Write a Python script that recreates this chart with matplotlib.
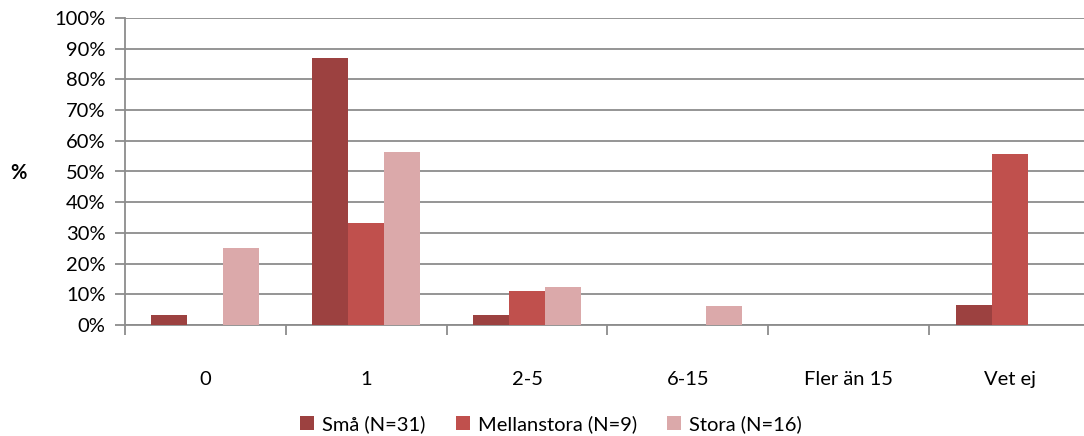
import numpy as np
import matplotlib.pyplot as plt
from matplotlib.ticker import FuncFormatter

categories = ['0', '1', '2-5', '6-15', 'Fler än 15', 'Vet ej']
series_names = ['Små (N=31)', 'Mellanstora (N=9)', 'Stora (N=16)']
sma = [3.2, 87.1, 3.2, 0, 0, 6.5]
mellanstora = [0, 33.3, 11.1, 0, 0, 55.6]
stora = [25.0, 56.3, 12.5, 6.3, 0, 0]
colors = ['#9C4140', '#C0504D', '#DBA9AA']

plt.rcParams['font.family'] = ['Lato', 'DejaVu Sans']
fs = 14.5

fig = plt.figure(figsize=(10.84, 4.36), dpi=100)
ax = fig.add_axes([125 / 1084, 1 - 325 / 436, (1090 - 125) / 1084, (325 - 18) / 436])

x = np.arange(len(categories))
w = 0.224
for i, (vals, name, c) in enumerate(zip([sma, mellanstora, stora], series_names, colors)):
    ax.bar(x + (i - 1) * w, vals, width=w, color=c, label=name, zorder=3)

ax.set_xlim(-0.5, len(categories) - 0.5)
ax.set_ylim(0, 100)
ax.set_yticks(np.arange(0, 101, 10))
ax.yaxis.set_major_formatter(FuncFormatter(lambda v, p: f'{int(v)}%'))
ax.grid(axis='y', color='#8c8c8c', linewidth=1.3, zorder=0)

# category labels between boundary ticks
ax.set_xticks(x)
ax.set_xticklabels(categories)
ax.tick_params(axis='x', length=0, pad=33, labelsize=fs)
ax.set_xticks(np.arange(-0.5, len(categories), 1), minor=True)
ax.tick_params(axis='x', which='minor', length=7, width=1.3, color='#8c8c8c')
ax.tick_params(axis='y', length=7, width=1.3, color='#8c8c8c', labelsize=fs, pad=7)

for s in ['top', 'right']:
    ax.spines[s].set_visible(False)
for s in ['left', 'bottom']:
    ax.spines[s].set_color('#8c8c8c')
    ax.spines[s].set_linewidth(1.3)

fig.text(18 / 1084, 1 - 173 / 436, '%', fontsize=fs, fontweight='bold', ha='center', va='center')

fig.legend(loc='center', bbox_to_anchor=(551 / 1084, 1 - 424 / 436), ncol=3, frameon=False,
           fontsize=fs, handlelength=0.7, handleheight=0.7, handletextpad=0.4, columnspacing=1.5)

fig.savefig('out.png', dpi=100)
